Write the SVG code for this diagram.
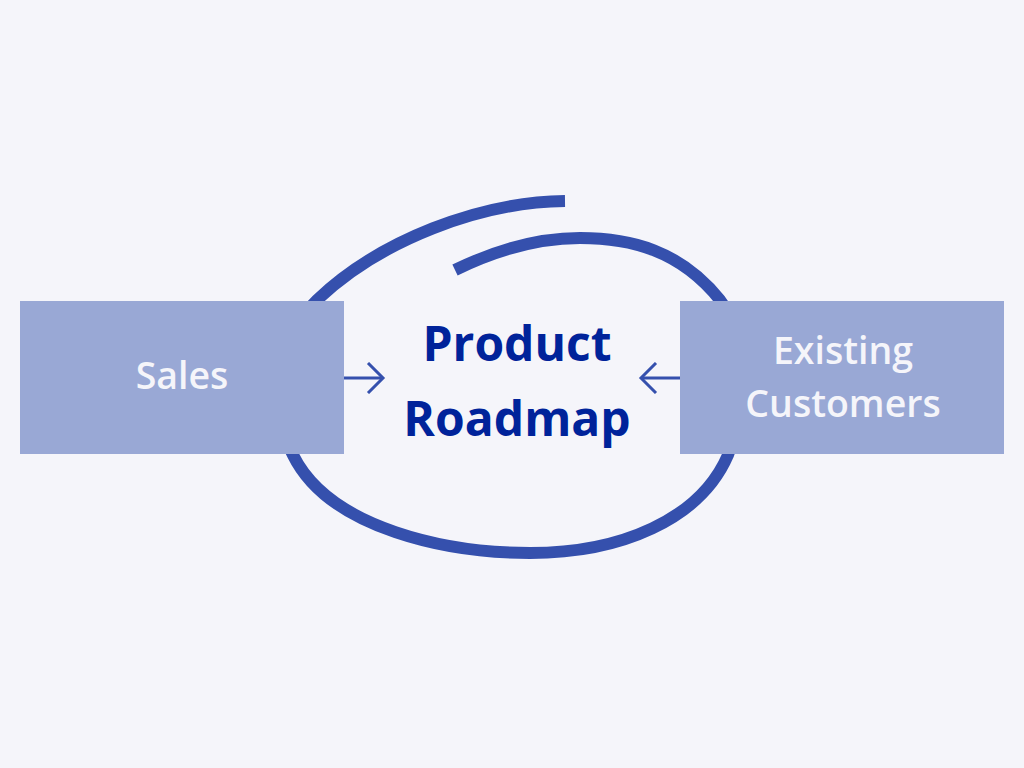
<svg xmlns="http://www.w3.org/2000/svg" width="1024" height="768" viewBox="0 0 1024 768">
  <defs>
    <style>
      .box { fill: #99A8D5; }
      .boxtext { fill: #F5F5FA; font-family: "Open Sans", Lato, sans-serif; font-weight: 600; font-size: 37.5px; text-anchor: middle; }
      .title { fill: #00239A; font-family: "Open Sans", Lato, sans-serif; font-weight: 700; font-size: 48px; text-anchor: middle; }
      .swirl { fill: none; stroke: #3550AD; stroke-width: 12; stroke-linecap: butt; }
      .conn { fill: none; stroke: #3550AD; stroke-width: 3; }
    </style>
    <marker id="chev" viewBox="0 0 20 32" refX="17" refY="16" markerWidth="20" markerHeight="32" orient="auto" markerUnits="userSpaceOnUse">
      <path d="M2,1 L17,16 L2,31" fill="none" stroke="#3550AD" stroke-width="3"/>
    </marker>
  </defs>
  <rect width="1024" height="768" fill="#F5F5FA"/>
  <g id="roadmap">
    <path class="swirl" d="M565,201 C480,202 380,240 317,300 C280,335 268,410 293,455 C330,530 450,553 530,553 C620,553 700,520 728,455 C752,390 750,340 720,300 C680,250 630,238 580,238 C540,238 500,248 455,270"/>
    <text class="title" x="517" y="361">Product</text>
    <text class="title" x="517" y="436">Roadmap</text>
  </g>
  <g id="sales">
    <rect class="box" x="20" y="301" width="324" height="153"/>
    <text class="boxtext" x="182" y="389">Sales</text>
  </g>
  <g id="customers">
    <rect class="box" x="680" y="301" width="324" height="153"/>
    <text class="boxtext" x="843" y="364">Existing</text>
    <text class="boxtext" x="843" y="417">Customers</text>
  </g>
  <g id="connectors">
    <line class="conn" x1="344" y1="378" x2="383" y2="378" marker-end="url(#chev)"/>
    <line class="conn" x1="680" y1="378" x2="641" y2="378" marker-end="url(#chev)"/>
  </g>
</svg>
